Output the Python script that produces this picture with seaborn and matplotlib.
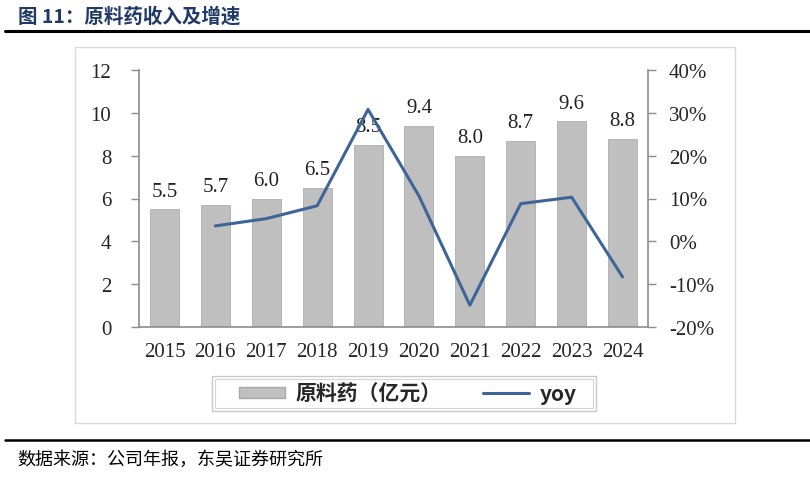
import numpy as np
import pandas as pd
import matplotlib
matplotlib.use("Agg")
import matplotlib.pyplot as plt
from matplotlib.patches import Rectangle, Patch
from matplotlib.lines import Line2D
import seaborn as sns

# data
years = ["2015", "2016", "2017", "2018", "2019", "2020", "2021", "2022", "2023", "2024"]
revenue = [5.5, 5.7, 6.0, 6.5, 8.5, 9.4, 8.0, 8.7, 9.6, 8.8]
yoy = [np.nan, 0.036, 0.053, 0.083, 0.308, 0.106, -0.149, 0.088, 0.103, -0.083]
left_ticks = [0, 2, 4, 6, 8, 10, 12]
right_ticks = [-0.2, -0.1, 0.0, 0.1, 0.2, 0.3, 0.4]

BAR = "#BFBFBF"
LINE = "#3E6597"
SPINE = "#8C8C8C"
NAVY = "#1F3A66"
SERIF = ["Liberation Serif", "Noto Sans CJK SC"]
CJK = ["Noto Sans CJK SC", "DejaVu Sans"]
FS = 15

sns.set_theme(style="white")
plt.rcParams["font.family"] = CJK

df = pd.DataFrame({"year": years, "revenue": revenue, "yoy": yoy})
df["pos"] = range(len(df))

fig = plt.figure(figsize=(8.1, 4.81), dpi=100)
ax = fig.add_axes([139 / 810, 1 - 328 / 481, (648 - 139) / 810, (328 - 71) / 481])

sns.barplot(data=df, x="year", y="revenue", color=BAR, width=0.57,
            edgecolor="#ADADAD", linewidth=0.6, saturation=1, ax=ax)
ax.set_ylim(0, 12)
ax.set_xlim(-0.5, len(years) - 0.5)
ax.set_yticks(left_ticks)
ax.set_yticklabels([str(t) for t in left_ticks], family=SERIF, fontsize=FS)
ax.set_xticks(df["pos"])
ax.set_xticklabels(years, family=SERIF, fontsize=FS)
ax.tick_params(axis="x", length=0, pad=11)
ax.tick_params(axis="y", direction="out", length=6, width=1, color=SPINE, pad=14, left=True)
ax.set_xlabel("")
ax.set_ylabel("")
for side in ["top", "right"]:
    ax.spines[side].set_visible(False)
for side in ["left", "bottom"]:
    ax.spines[side].set_color(SPINE)
    ax.spines[side].set_linewidth(1.2)

for p, v in zip(df["pos"], df["revenue"]):
    ax.text(p, v + 0.4, f"{v:.1f}", ha="center", va="bottom",
            family=SERIF, fontsize=FS, color="#222222")

ax2 = ax.twinx()
sns.lineplot(data=df, x="pos", y="yoy", color=LINE, linewidth=2.2, ax=ax2)
ax2.set_ylim(-0.2, 0.4)
ax2.set_yticks(right_ticks)
ax2.set_yticklabels([f"{round(t * 100)}%" for t in right_ticks], family=SERIF, fontsize=FS)
ax2.tick_params(axis="y", direction="out", length=6, width=1, color=SPINE, pad=9, right=True)
ax2.set_xlabel("")
ax2.set_ylabel("")
for side in ["top", "left", "bottom"]:
    ax2.spines[side].set_visible(False)
ax2.spines["right"].set_color(SPINE)
ax2.spines["right"].set_linewidth(1.2)
ax2.set_xlim(-0.5, len(years) - 0.5)


def fig_rect(x0, y0, x1, y1, **kw):
    # rectangle given in pixel coords of the 810x481 picture
    fig.patches.append(Rectangle((x0 / 810, 1 - y1 / 481), (x1 - x0) / 810, (y1 - y0) / 481,
                                 transform=fig.transFigure, fill=False, **kw))


# chart frame
fig_rect(75, 48, 735, 424, edgecolor="#D9D9D9", linewidth=1)

# legend (double thin frame like the source)
fig_rect(212, 377, 596, 412, edgecolor="#C8C8C8", linewidth=1)
fig_rect(215, 380, 593, 409, edgecolor="#D4D4D4", linewidth=0.8)
handles = [Patch(facecolor=BAR, edgecolor="#A8A8A8"), Line2D([], [], color=LINE, linewidth=2.2)]
leg = fig.legend(handles, ["原料药（亿元）", "yoy"], loc="center", bbox_to_anchor=(408 / 810, 1 - 394.5 / 481),
                 ncol=2, frameon=False,
                 prop={"family": CJK, "weight": "bold", "size": 15},
                 handlelength=2.2, handleheight=0.45, columnspacing=2.0,
                 borderpad=0, borderaxespad=0, handletextpad=0.5)

# title and source
fig.text(18 / 810, 1 - 17 / 481, "图 11：原料药收入及增速", ha="left", va="center",
         fontsize=14, fontweight="bold", color=NAVY, family=CJK)
fig.add_artist(Line2D([5 / 810, 1], [1 - 32 / 481] * 2, color="black", linewidth=2.2))
fig.add_artist(Line2D([5 / 810, 1], [1 - 441 / 481] * 2, color="black", linewidth=1.8))
fig.text(17 / 810, 1 - 460 / 481, "数据来源：公司年报，东吴证券研究所", ha="left", va="center",
         fontsize=13, color="black", family=CJK)

fig.savefig("out.png", dpi=100)
